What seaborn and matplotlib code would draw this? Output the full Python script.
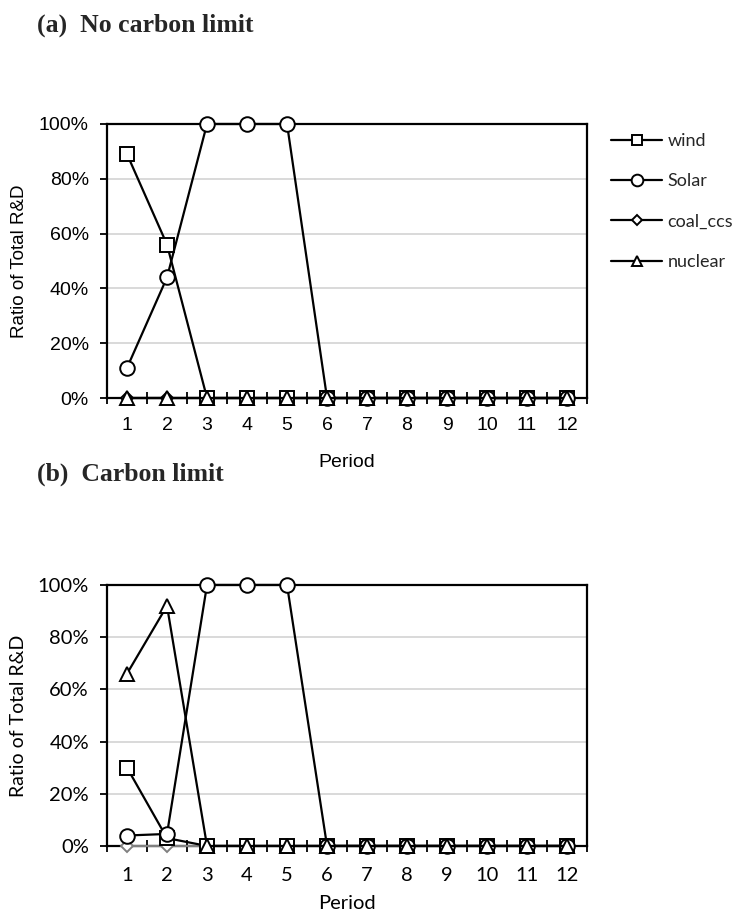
import matplotlib
matplotlib.use("Agg")
import matplotlib.pyplot as plt
import seaborn as sns
import numpy as np
import pandas as pd
from matplotlib.lines import Line2D
from matplotlib.ticker import PercentFormatter, FixedLocator

periods = list(range(1, 13))
series_names = ["wind", "Solar", "coal_ccs", "nuclear"]

# (a) No carbon limit (ratio, %)
a_wind = [89, 56, 0, 0, 0, 0, 0, 0, 0, 0, 0, 0]
a_solar = [11, 44, 100, 100, 100, 0, 0, 0, 0, 0, 0, 0]
a_coal = [0, 0, 0, 0, 0, 0, 0, 0, 0, 0, 0, 0]
a_nuclear = [0, 0, 0, 0, 0, 0, 0, 0, 0, 0, 0, 0]

# (b) Carbon limit (ratio, %)
b_wind = [30, 3, 0, 0, 0, 0, 0, 0, 0, 0, 0, 0]
b_solar = [4, 4.6, 100, 100, 100, 0, 0, 0, 0, 0, 0, 0]
b_coal = [0, 0, 0, 0, 0, 0, 0, 0, 0, 0, 0, 0]
b_nuclear = [66, 92, 0, 0, 0, 0, 0, 0, 0, 0, 0, 0]

y_ticks = [0, 20, 40, 60, 80, 100]

sns.set_theme(style="white")
plt.rcParams["font.family"] = ["Liberation Sans", "DejaVu Sans"]

fig = plt.figure(figsize=(7.42, 9.11), dpi=100)
ax1 = fig.add_axes([0.1442, 0.5631, 0.647, 0.3008])
ax2 = fig.add_axes([0.1442, 0.0714, 0.647, 0.2865])

markers = {"wind": "s", "Solar": "o", "coal_ccs": "D", "nuclear": "^"}
msizes = {"wind": 9.5, "Solar": 10.5, "coal_ccs": 6.5, "nuclear": 9.5}


def draw(ax, data, colors, order, font, fs, xpad, xlabpad):
    for name in order:
        vals = data[name]
        df = pd.DataFrame({"Period": periods, "v": vals})
        sns.lineplot(data=df, x="Period", y="v", ax=ax, color=colors[name],
                     marker=markers[name], markersize=msizes[name],
                     markerfacecolor="white", markeredgecolor=colors[name],
                     markeredgewidth=1.4, linewidth=1.6, legend=False,
                     zorder=3, clip_on=False)
    ax.set_xlim(0.5, 12.5)
    ax.set_ylim(0, 100)
    ax.yaxis.set_major_locator(FixedLocator(y_ticks))
    ax.yaxis.set_major_formatter(PercentFormatter(decimals=0))
    ax.set_xticks(periods)
    ax.set_xticks(np.arange(0.5, 13, 1.0), minor=True)
    ax.tick_params(axis="x", which="major", length=0, pad=xpad, labelsize=fs,
                   labelcolor="black", labelfontfamily=font)
    ax.tick_params(axis="x", which="minor", direction="inout", length=8,
                   width=1.3, color="black", bottom=True)
    ax.tick_params(axis="y", which="major", direction="out", length=5,
                   width=1.3, color="black", left=True, labelsize=fs,
                   pad=8, labelcolor="black", labelfontfamily=font)
    ax.grid(axis="y", color="#d9d9d9", linewidth=1.4)
    ax.grid(axis="x", visible=False)
    for s in ax.spines.values():
        s.set_color("black")
        s.set_linewidth(1.6)
        s.set_visible(True)
    ax.set_axisbelow(True)
    ax.set_xlabel("Period", fontsize=fs, family=font, labelpad=xlabpad,
                  color="black")
    ax.set_ylabel("Ratio of Total R&D", fontsize=fs - 0.5, family=font,
                  labelpad=8, color="black")


data_a = {"wind": a_wind, "Solar": a_solar, "coal_ccs": a_coal, "nuclear": a_nuclear}
data_b = {"wind": b_wind, "Solar": b_solar, "coal_ccs": b_coal, "nuclear": b_nuclear}
cols_a = {"wind": "black", "Solar": "black", "coal_ccs": "black", "nuclear": "black"}
cols_b = {"wind": "black", "Solar": "black", "coal_ccs": "#808080", "nuclear": "black"}

draw(ax1, data_a, cols_a, ["coal_ccs", "wind", "Solar", "nuclear"],
     "Liberation Sans", 14, 14, 14)
draw(ax2, data_b, cols_b, ["coal_ccs", "wind", "Solar", "nuclear"],
     "Lato", 14.5, 15, 8)

handles = [Line2D([], [], color="black", marker=markers[n],
                  markersize=msizes[n] * 0.8, markerfacecolor="white",
                  markeredgecolor="black", markeredgewidth=1.4, linewidth=1.6)
           for n in series_names]
fig.legend(handles, series_names, loc="upper left",
           bbox_to_anchor=(0.802, 0.872), frameon=False,
           prop={"family": "Lato", "size": 13}, handlelength=2.8,
           handletextpad=0.3, labelspacing=1.35)

fig.text(0.05, 0.972, "(a)  No carbon limit", family="Liberation Serif",
         fontweight="bold", fontsize=18.5, va="center", ha="left")
fig.text(0.05, 0.4797, "(b)  Carbon limit", family="Liberation Serif",
         fontweight="bold", fontsize=18.5, va="center", ha="left")

fig.savefig("out.png", dpi=100)
